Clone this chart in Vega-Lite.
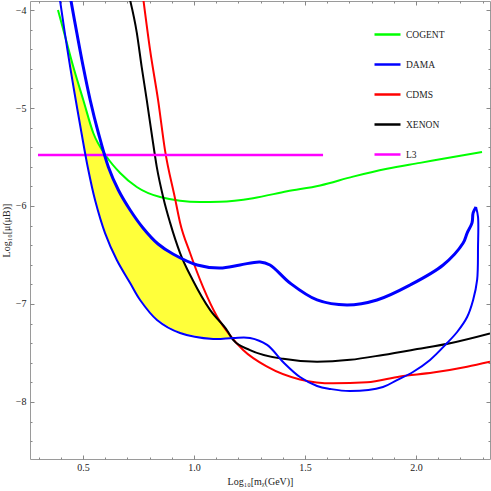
{
  "$schema": "https://vega.github.io/schema/vega-lite/v6.json",
  "width": 460,
  "height": 458,
  "autosize": "none",
  "padding": {"left": 30, "top": 1, "right": 1, "bottom": 32},
  "config": {"view": {"stroke": "#9a9a9a", "strokeWidth": 1}},
  "datasets": {
    "band": [
      {"x": 0.428, "top": -4.357, "bot": -4.373},
      {"x": 0.464, "top": -4.637, "bot": -4.88},
      {"x": 0.4865, "top": -4.806, "bot": -5.165},
      {"x": 0.509, "top": -4.976, "bot": -5.455},
      {"x": 0.5315, "top": -5.143, "bot": -5.72},
      {"x": 0.554, "top": -5.286, "bot": -5.939},
      {"x": 0.5766, "top": -5.378, "bot": -6.107},
      {"x": 0.599, "top": -5.488, "bot": -6.276},
      {"x": 0.6216, "top": -5.642, "bot": -6.393},
      {"x": 0.6532, "top": -5.806, "bot": -6.556},
      {"x": 0.6892, "top": -5.954, "bot": -6.698},
      {"x": 0.7342, "top": -6.119, "bot": -6.872},
      {"x": 0.7793, "top": -6.246, "bot": -7.019},
      {"x": 0.8243, "top": -6.355, "bot": -7.139},
      {"x": 0.8694, "top": -6.436, "bot": -7.209},
      {"x": 0.9144, "top": -6.499, "bot": -7.267},
      {"x": 0.9505, "top": -6.543, "bot": -7.301},
      {"x": 0.982, "top": -6.692, "bot": -7.314},
      {"x": 1.027, "top": -6.882, "bot": -7.333},
      {"x": 1.072, "top": -7.061, "bot": -7.352},
      {"x": 1.117, "top": -7.182, "bot": -7.354},
      {"x": 1.153, "top": -7.283, "bot": -7.349},
      {"x": 1.171, "top": -7.35, "bot": -7.35}
    ],
    "curves": [
      {"s": "COGENT", "b": "", "i": 1, "x": 0.387, "y": -4.0},
      {"s": "COGENT", "b": "", "i": 2, "x": 0.411, "y": -4.2},
      {"s": "COGENT", "b": "", "i": 3, "x": 0.456, "y": -4.58},
      {"s": "COGENT", "b": "", "i": 4, "x": 0.501, "y": -4.918},
      {"s": "COGENT", "b": "", "i": 5, "x": 0.546, "y": -5.255},
      {"s": "COGENT", "b": "", "i": 6, "x": 0.607, "y": -5.5},
      {"s": "COGENT", "b": "", "i": 7, "x": 0.667, "y": -5.663},
      {"s": "COGENT", "b": "", "i": 8, "x": 0.742, "y": -5.806},
      {"s": "COGENT", "b": "", "i": 9, "x": 0.847, "y": -5.908},
      {"s": "COGENT", "b": "", "i": 10, "x": 1.027, "y": -5.959},
      {"s": "COGENT", "b": "", "i": 11, "x": 1.117, "y": -5.956},
      {"s": "COGENT", "b": "", "i": 12, "x": 1.266, "y": -5.92},
      {"s": "COGENT", "b": "", "i": 13, "x": 1.419, "y": -5.85},
      {"s": "COGENT", "b": "", "i": 14, "x": 1.568, "y": -5.79},
      {"s": "COGENT", "b": "", "i": 15, "x": 1.716, "y": -5.7},
      {"s": "COGENT", "b": "", "i": 16, "x": 1.869, "y": -5.62},
      {"s": "COGENT", "b": "", "i": 17, "x": 2.018, "y": -5.56},
      {"s": "COGENT", "b": "", "i": 18, "x": 2.167, "y": -5.5},
      {"s": "COGENT", "b": "", "i": 19, "x": 2.297, "y": -5.45},
      {"s": "CDMS", "b": "", "i": 1, "x": 0.772, "y": -3.9},
      {"s": "CDMS", "b": "", "i": 2, "x": 0.802, "y": -4.41},
      {"s": "CDMS", "b": "", "i": 3, "x": 0.838, "y": -4.92},
      {"s": "CDMS", "b": "", "i": 4, "x": 0.869, "y": -5.43},
      {"s": "CDMS", "b": "", "i": 5, "x": 0.914, "y": -5.92},
      {"s": "CDMS", "b": "", "i": 6, "x": 0.937, "y": -6.17},
      {"s": "CDMS", "b": "", "i": 7, "x": 0.982, "y": -6.48},
      {"s": "CDMS", "b": "", "i": 8, "x": 1.041, "y": -6.83},
      {"s": "CDMS", "b": "", "i": 9, "x": 1.104, "y": -7.13},
      {"s": "CDMS", "b": "", "i": 10, "x": 1.162, "y": -7.32},
      {"s": "CDMS", "b": "", "i": 11, "x": 1.221, "y": -7.47},
      {"s": "CDMS", "b": "", "i": 12, "x": 1.329, "y": -7.64},
      {"s": "CDMS", "b": "", "i": 13, "x": 1.477, "y": -7.77},
      {"s": "CDMS", "b": "", "i": 14, "x": 1.626, "y": -7.81},
      {"s": "CDMS", "b": "", "i": 15, "x": 1.779, "y": -7.8},
      {"s": "CDMS", "b": "", "i": 16, "x": 1.928, "y": -7.74},
      {"s": "CDMS", "b": "", "i": 17, "x": 2.077, "y": -7.7},
      {"s": "CDMS", "b": "", "i": 18, "x": 2.23, "y": -7.64},
      {"s": "CDMS", "b": "", "i": 19, "x": 2.333, "y": -7.59},
      {"s": "XENON", "b": "", "i": 1, "x": 0.712, "y": -3.9},
      {"s": "XENON", "b": "", "i": 2, "x": 0.742, "y": -4.23},
      {"s": "XENON", "b": "", "i": 3, "x": 0.764, "y": -4.58},
      {"s": "XENON", "b": "", "i": 4, "x": 0.787, "y": -4.92},
      {"s": "XENON", "b": "", "i": 5, "x": 0.809, "y": -5.26},
      {"s": "XENON", "b": "", "i": 6, "x": 0.832, "y": -5.6},
      {"s": "XENON", "b": "", "i": 7, "x": 0.862, "y": -5.92},
      {"s": "XENON", "b": "", "i": 8, "x": 0.892, "y": -6.17},
      {"s": "XENON", "b": "", "i": 9, "x": 0.937, "y": -6.48},
      {"s": "XENON", "b": "", "i": 10, "x": 0.995, "y": -6.76},
      {"s": "XENON", "b": "", "i": 11, "x": 1.072, "y": -7.06},
      {"s": "XENON", "b": "", "i": 12, "x": 1.149, "y": -7.27},
      {"s": "XENON", "b": "", "i": 13, "x": 1.176, "y": -7.367},
      {"s": "XENON", "b": "", "i": 14, "x": 1.252, "y": -7.47},
      {"s": "XENON", "b": "", "i": 15, "x": 1.401, "y": -7.56},
      {"s": "XENON", "b": "", "i": 16, "x": 1.554, "y": -7.59},
      {"s": "XENON", "b": "", "i": 17, "x": 1.703, "y": -7.57},
      {"s": "XENON", "b": "", "i": 18, "x": 1.851, "y": -7.52},
      {"s": "XENON", "b": "", "i": 19, "x": 2.005, "y": -7.46},
      {"s": "XENON", "b": "", "i": 20, "x": 2.153, "y": -7.4},
      {"s": "XENON", "b": "", "i": 21, "x": 2.333, "y": -7.3},
      {"s": "L3", "b": "", "i": 1, "x": 0.297, "y": -5.48},
      {"s": "L3", "b": "", "i": 2, "x": 1.581, "y": -5.48},
      {"s": "DAMA", "b": "upper", "i": 1, "x": 0.445, "y": -3.898},
      {"s": "DAMA", "b": "upper", "i": 2, "x": 0.472, "y": -4.235},
      {"s": "DAMA", "b": "upper", "i": 3, "x": 0.501, "y": -4.582},
      {"s": "DAMA", "b": "upper", "i": 4, "x": 0.532, "y": -4.918},
      {"s": "DAMA", "b": "upper", "i": 5, "x": 0.569, "y": -5.255},
      {"s": "DAMA", "b": "upper", "i": 6, "x": 0.614, "y": -5.602},
      {"s": "DAMA", "b": "upper", "i": 7, "x": 0.659, "y": -5.837},
      {"s": "DAMA", "b": "upper", "i": 8, "x": 0.712, "y": -6.041},
      {"s": "DAMA", "b": "upper", "i": 9, "x": 0.77, "y": -6.224},
      {"s": "DAMA", "b": "upper", "i": 10, "x": 0.838, "y": -6.388},
      {"s": "DAMA", "b": "upper", "i": 11, "x": 0.905, "y": -6.49},
      {"s": "DAMA", "b": "upper", "i": 12, "x": 1.014, "y": -6.602},
      {"s": "DAMA", "b": "upper", "i": 13, "x": 1.117, "y": -6.633},
      {"s": "DAMA", "b": "upper", "i": 14, "x": 1.207, "y": -6.602},
      {"s": "DAMA", "b": "upper", "i": 15, "x": 1.297, "y": -6.571},
      {"s": "DAMA", "b": "upper", "i": 16, "x": 1.342, "y": -6.602},
      {"s": "DAMA", "b": "upper", "i": 17, "x": 1.432, "y": -6.786},
      {"s": "DAMA", "b": "upper", "i": 18, "x": 1.554, "y": -6.959},
      {"s": "DAMA", "b": "upper", "i": 19, "x": 1.689, "y": -7.01},
      {"s": "DAMA", "b": "upper", "i": 20, "x": 1.824, "y": -6.959},
      {"s": "DAMA", "b": "upper", "i": 21, "x": 1.973, "y": -6.806},
      {"s": "DAMA", "b": "upper", "i": 22, "x": 2.122, "y": -6.602},
      {"s": "DAMA", "b": "upper", "i": 23, "x": 2.212, "y": -6.378},
      {"s": "DAMA", "b": "upper", "i": 24, "x": 2.23, "y": -6.276},
      {"s": "DAMA", "b": "upper", "i": 25, "x": 2.252, "y": -6.173},
      {"s": "DAMA", "b": "upper", "i": 26, "x": 2.257, "y": -6.071},
      {"s": "DAMA", "b": "upper", "i": 27, "x": 2.27, "y": -6.01},
      {"s": "DAMA", "b": "lower", "i": 27, "x": 2.27, "y": -6.01},
      {"s": "DAMA", "b": "lower", "i": 28, "x": 2.279, "y": -6.112},
      {"s": "DAMA", "b": "lower", "i": 29, "x": 2.279, "y": -6.418},
      {"s": "DAMA", "b": "lower", "i": 30, "x": 2.275, "y": -6.755},
      {"s": "DAMA", "b": "lower", "i": 31, "x": 2.257, "y": -6.959},
      {"s": "DAMA", "b": "lower", "i": 32, "x": 2.23, "y": -7.133},
      {"s": "DAMA", "b": "lower", "i": 33, "x": 2.185, "y": -7.286},
      {"s": "DAMA", "b": "lower", "i": 34, "x": 2.14, "y": -7.398},
      {"s": "DAMA", "b": "lower", "i": 35, "x": 2.063, "y": -7.571},
      {"s": "DAMA", "b": "lower", "i": 36, "x": 1.986, "y": -7.694},
      {"s": "DAMA", "b": "lower", "i": 37, "x": 1.914, "y": -7.776},
      {"s": "DAMA", "b": "lower", "i": 38, "x": 1.851, "y": -7.847},
      {"s": "DAMA", "b": "lower", "i": 39, "x": 1.703, "y": -7.888},
      {"s": "DAMA", "b": "lower", "i": 40, "x": 1.613, "y": -7.867},
      {"s": "DAMA", "b": "lower", "i": 41, "x": 1.554, "y": -7.837},
      {"s": "DAMA", "b": "lower", "i": 42, "x": 1.477, "y": -7.745},
      {"s": "DAMA", "b": "lower", "i": 43, "x": 1.401, "y": -7.592},
      {"s": "DAMA", "b": "lower", "i": 44, "x": 1.329, "y": -7.418},
      {"s": "DAMA", "b": "lower", "i": 45, "x": 1.252, "y": -7.347},
      {"s": "DAMA", "b": "lower", "i": 46, "x": 1.176, "y": -7.347},
      {"s": "DAMA", "b": "lower", "i": 47, "x": 1.086, "y": -7.357},
      {"s": "DAMA", "b": "lower", "i": 48, "x": 0.937, "y": -7.296},
      {"s": "DAMA", "b": "lower", "i": 49, "x": 0.833, "y": -7.163},
      {"s": "DAMA", "b": "lower", "i": 50, "x": 0.757, "y": -6.959},
      {"s": "DAMA", "b": "lower", "i": 51, "x": 0.712, "y": -6.786},
      {"s": "DAMA", "b": "lower", "i": 52, "x": 0.652, "y": -6.551},
      {"s": "DAMA", "b": "lower", "i": 53, "x": 0.599, "y": -6.276},
      {"s": "DAMA", "b": "lower", "i": 54, "x": 0.554, "y": -5.939},
      {"s": "DAMA", "b": "lower", "i": 55, "x": 0.521, "y": -5.602},
      {"s": "DAMA", "b": "lower", "i": 56, "x": 0.493, "y": -5.255},
      {"s": "DAMA", "b": "lower", "i": 57, "x": 0.467, "y": -4.918},
      {"s": "DAMA", "b": "lower", "i": 58, "x": 0.442, "y": -4.582},
      {"s": "DAMA", "b": "lower", "i": 59, "x": 0.418, "y": -4.235},
      {"s": "DAMA", "b": "lower", "i": 60, "x": 0.396, "y": -3.898}
    ]
  },
  "resolve": {"axis": {"x": "independent", "y": "independent"}},
  "layer": [
    {
      "data": {"name": "band"},
      "mark": {"type": "area", "color": "#ffff3a", "opacity": 1, "clip": true},
      "encoding": {
        "x": {"field": "x", "type": "quantitative", "scale": {"domain": [0.261, 2.333], "nice": false, "zero": false},
          "axis": {"orient": "bottom", "values": [0.5, 1, 1.5, 2], "format": ".1f", "tickSize": -4, "tickColor": "#888", "domain": false, "grid": false,
            "labelFont": "Liberation Serif", "labelFontSize": 10, "labelColor": "#222", "labelPadding": 7,
            "title": "Log₁₀[mᵪ(GeV)]", "titleFont": "Liberation Serif", "titleFontSize": 10, "titleFontWeight": "normal", "titleColor": "#222", "titlePadding": 4}},
        "y": {"field": "top", "type": "quantitative", "scale": {"domain": [-8.582, -3.908], "nice": false, "zero": false},
          "axis": {"orient": "left", "values": [-8, -7, -6, -5, -4], "format": "d", "tickSize": -4, "tickColor": "#888", "domain": false, "grid": false,
            "labelFont": "Liberation Serif", "labelFontSize": 10, "labelColor": "#222", "labelPadding": 8,
            "title": "Log₁₀[μ(μB)]", "titleFont": "Liberation Serif", "titleFontSize": 10, "titleFontWeight": "normal", "titleColor": "#222", "titlePadding": 4}},
        "y2": {"field": "bot"}
      }
    },
    {
      "data": {"name": "curves"},
      "transform": [{"filter": "datum.s == 'COGENT' || datum.s == 'CDMS' || datum.s == 'XENON'"}],
      "mark": {"type": "line", "strokeWidth": 2, "interpolate": "monotone", "clip": true},
      "encoding": {
        "x": {"field": "x", "type": "quantitative",
          "axis": {"orient": "bottom", "values": [0.3,0.4,0.5,0.6,0.7,0.8,0.9,1.0,1.1,1.2,1.3,1.4,1.5,1.6,1.7,1.8,1.9,2.0,2.1,2.2,2.3], "tickSize": -2, "tickColor": "#888", "labels": false, "domain": false, "grid": false, "title": null}},
        "y": {"field": "y", "type": "quantitative",
          "axis": {"orient": "left", "values": [-8.4,-8.2,-8,-7.8,-7.6,-7.4,-7.2,-7,-6.8,-6.6,-6.4,-6.2,-6,-5.8,-5.6,-5.4,-5.2,-5,-4.8,-4.6,-4.4,-4.2,-4], "tickSize": -2, "tickColor": "#888", "labels": false, "domain": false, "grid": false, "title": null}},
        "color": {"field": "s", "type": "nominal",
          "scale": {"domain": ["COGENT", "DAMA", "CDMS", "XENON", "L3"], "range": ["#00ff00", "#0000ff", "#ff0000", "#000000", "#ff00ff"]},
          "legend": {"orient": "none", "legendX": 343, "legendY": 19, "title": null, "symbolType": "stroke", "symbolSize": 676, "symbolStrokeWidth": 2.5,
            "labelFont": "Liberation Serif", "labelFontSize": 9.5, "labelColor": "#222", "rowPadding": 10, "padding": 0, "labelOffset": 4, "symbolOffset": 0}},
        "order": {"field": "i", "type": "quantitative"}
      }
    },
    {
      "data": {"name": "curves"},
      "transform": [{"filter": "datum.s == 'L3'"}],
      "mark": {"type": "line", "strokeWidth": 2.5, "clip": true},
      "encoding": {
        "x": {"field": "x", "type": "quantitative",
          "axis": {"orient": "top", "values": [0.5, 1, 1.5, 2], "tickSize": -4, "tickColor": "#888", "labels": false, "domain": false, "grid": false, "title": null}},
        "y": {"field": "y", "type": "quantitative",
          "axis": {"orient": "right", "values": [-8, -7, -6, -5, -4], "tickSize": -4, "tickColor": "#888", "labels": false, "domain": false, "grid": false, "title": null}},
        "color": {"field": "s", "type": "nominal"},
        "order": {"field": "i", "type": "quantitative"}
      }
    },
    {
      "data": {"name": "curves"},
      "transform": [{"filter": "datum.b == 'upper'"}],
      "mark": {"type": "line", "strokeWidth": 3, "interpolate": "catmull-rom", "clip": true},
      "encoding": {
        "x": {"field": "x", "type": "quantitative",
          "axis": {"orient": "top", "values": [0.3,0.4,0.5,0.6,0.7,0.8,0.9,1.0,1.1,1.2,1.3,1.4,1.5,1.6,1.7,1.8,1.9,2.0,2.1,2.2,2.3], "tickSize": -2, "tickColor": "#888", "labels": false, "domain": false, "grid": false, "title": null}},
        "y": {"field": "y", "type": "quantitative",
          "axis": {"orient": "right", "values": [-8.4,-8.2,-8,-7.8,-7.6,-7.4,-7.2,-7,-6.8,-6.6,-6.4,-6.2,-6,-5.8,-5.6,-5.4,-5.2,-5,-4.8,-4.6,-4.4,-4.2,-4], "tickSize": -2, "tickColor": "#888", "labels": false, "domain": false, "grid": false, "title": null}},
        "color": {"field": "s", "type": "nominal"},
        "order": {"field": "i", "type": "quantitative"}
      }
    },
    {
      "data": {"name": "curves"},
      "transform": [{"filter": "datum.b == 'lower'"}],
      "mark": {"type": "line", "strokeWidth": 2, "interpolate": "catmull-rom", "clip": true},
      "encoding": {
        "x": {"field": "x", "type": "quantitative", "axis": null},
        "y": {"field": "y", "type": "quantitative", "axis": null},
        "color": {"field": "s", "type": "nominal"},
        "order": {"field": "i", "type": "quantitative"}
      }
    }
  ]
}
